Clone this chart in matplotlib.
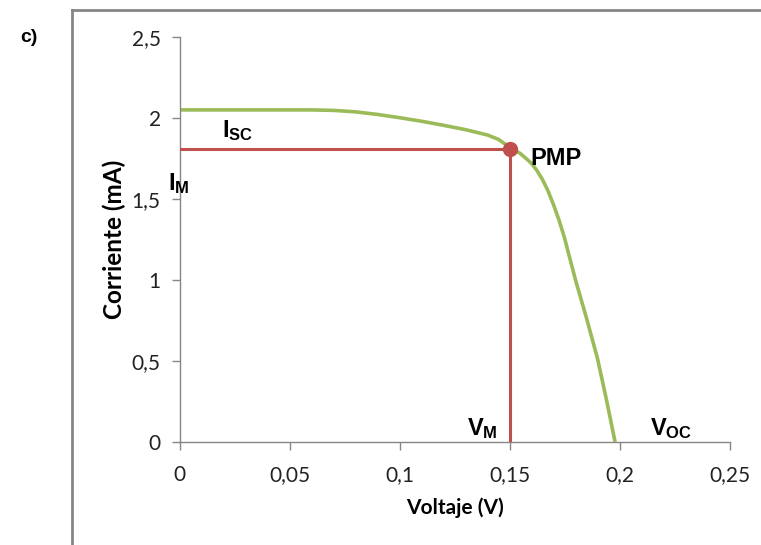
import matplotlib
matplotlib.use('Agg')
import matplotlib.pyplot as plt
from matplotlib.lines import Line2D

# I-V curve (V in volts, I in mA)
voltage = [0, 0.02, 0.04, 0.06, 0.07, 0.08, 0.09, 0.1, 0.11, 0.12, 0.13, 0.14, 0.145,
           0.15, 0.155, 0.16, 0.1625, 0.165, 0.1675, 0.17, 0.1725, 0.175, 0.18,
           0.185, 0.19, 0.194, 0.198]
current = [2.05, 2.05, 2.05, 2.05, 2.047, 2.038, 2.022, 2.002, 1.98, 1.955, 1.928, 1.895, 1.868,
           1.82, 1.78, 1.72, 1.675, 1.62, 1.55, 1.465, 1.37, 1.26, 1.0,
           0.765, 0.515, 0.265, 0.0]

# maximum power point
v_mp = 0.15
i_mp = 1.81

xticks = [0, 0.05, 0.1, 0.15, 0.2, 0.25]
xtick_labels = ['0', '0,05', '0,1', '0,15', '0,2', '0,25']
yticks = [0, 0.5, 1, 1.5, 2, 2.5]
ytick_labels = ['0', '0,5', '1', '1,5', '2', '2,5']

green = '#9BBB59'
red = '#C0504D'
gray = '#868686'

plt.rcParams['mathtext.fontset'] = 'custom'
plt.rcParams['mathtext.rm'] = 'Liberation Sans'
plt.rcParams['mathtext.bf'] = 'Liberation Sans:bold'
plt.rcParams['mathtext.it'] = 'Liberation Sans:italic'

fig = plt.figure(figsize=(7.61, 5.45), dpi=100)
ax = fig.add_axes([179.5 / 761, 1 - 442 / 545, 550 / 761, 405 / 545])

ax.plot(voltage, current, color=green, lw=2.6, solid_capstyle='butt', solid_joinstyle='round', zorder=2)
ax.plot([0, v_mp], [i_mp, i_mp], color=red, lw=2.2, zorder=3)
ax.plot([v_mp, v_mp], [i_mp, 0], color=red, lw=2.2, zorder=3)
ax.plot([v_mp], [i_mp], 'o', color=red, ms=10, zorder=4)

ax.set_xlim(0, 0.25)
ax.set_ylim(0, 2.5)
ax.set_xticks(xticks)
ax.set_xticklabels(xtick_labels)
ax.set_yticks(yticks)
ax.set_yticklabels(ytick_labels)

for side in ['top', 'right']:
    ax.spines[side].set_visible(False)
for side in ['left', 'bottom']:
    ax.spines[side].set_color(gray)
    ax.spines[side].set_linewidth(1)

ax.tick_params(axis='both', direction='out', length=5.5, width=1, color=gray,
               labelsize=15, labelcolor='#222222')
ax.tick_params(axis='x', pad=11)
ax.tick_params(axis='y', pad=8)
for lab in ax.get_xticklabels() + ax.get_yticklabels():
    lab.set_family('Lato')

ax.set_xlabel('Voltaje (V)', fontsize=15, fontweight='bold', family='Lato')
ax.set_ylabel('Corriente (mA)', fontsize=17.5, fontweight='bold', family='Lato')
ax.xaxis.set_label_coords(0.5, -0.137)
ax.yaxis.set_label_coords(-0.097, 0.5)

# annotations
ax.text(0.0193, 1.883, r'$\mathbf{I_{SC}}$', fontsize=17, va='baseline')
ax.text(-0.0052, 1.556, r'$\mathbf{I_{M}}$', fontsize=17, va='baseline', clip_on=False)
ax.text(0.1593, 1.71, 'PMP', fontsize=17, fontweight='bold', family='Liberation Sans', va='baseline')
ax.text(0.1305, 0.043, r'$\mathbf{V_{M}}$', fontsize=17, va='baseline')
ax.text(0.2139, 0.043, r'$\mathbf{V_{OC}}$', fontsize=17, va='baseline')

fig.text(20 / 761, 1 - 42 / 545, 'c)', fontsize=14, fontweight='bold',
         family='Liberation Sans', va='baseline')

# outer frame (left and top edges)
fig.add_artist(Line2D([72 / 761, 72 / 761], [0, 1 - 10 / 545], color=gray, lw=2,
                      transform=fig.transFigure))
fig.add_artist(Line2D([72 / 761, 1], [1 - 10 / 545, 1 - 10 / 545], color=gray, lw=2,
                      transform=fig.transFigure))

fig.savefig('out.png', dpi=100)
